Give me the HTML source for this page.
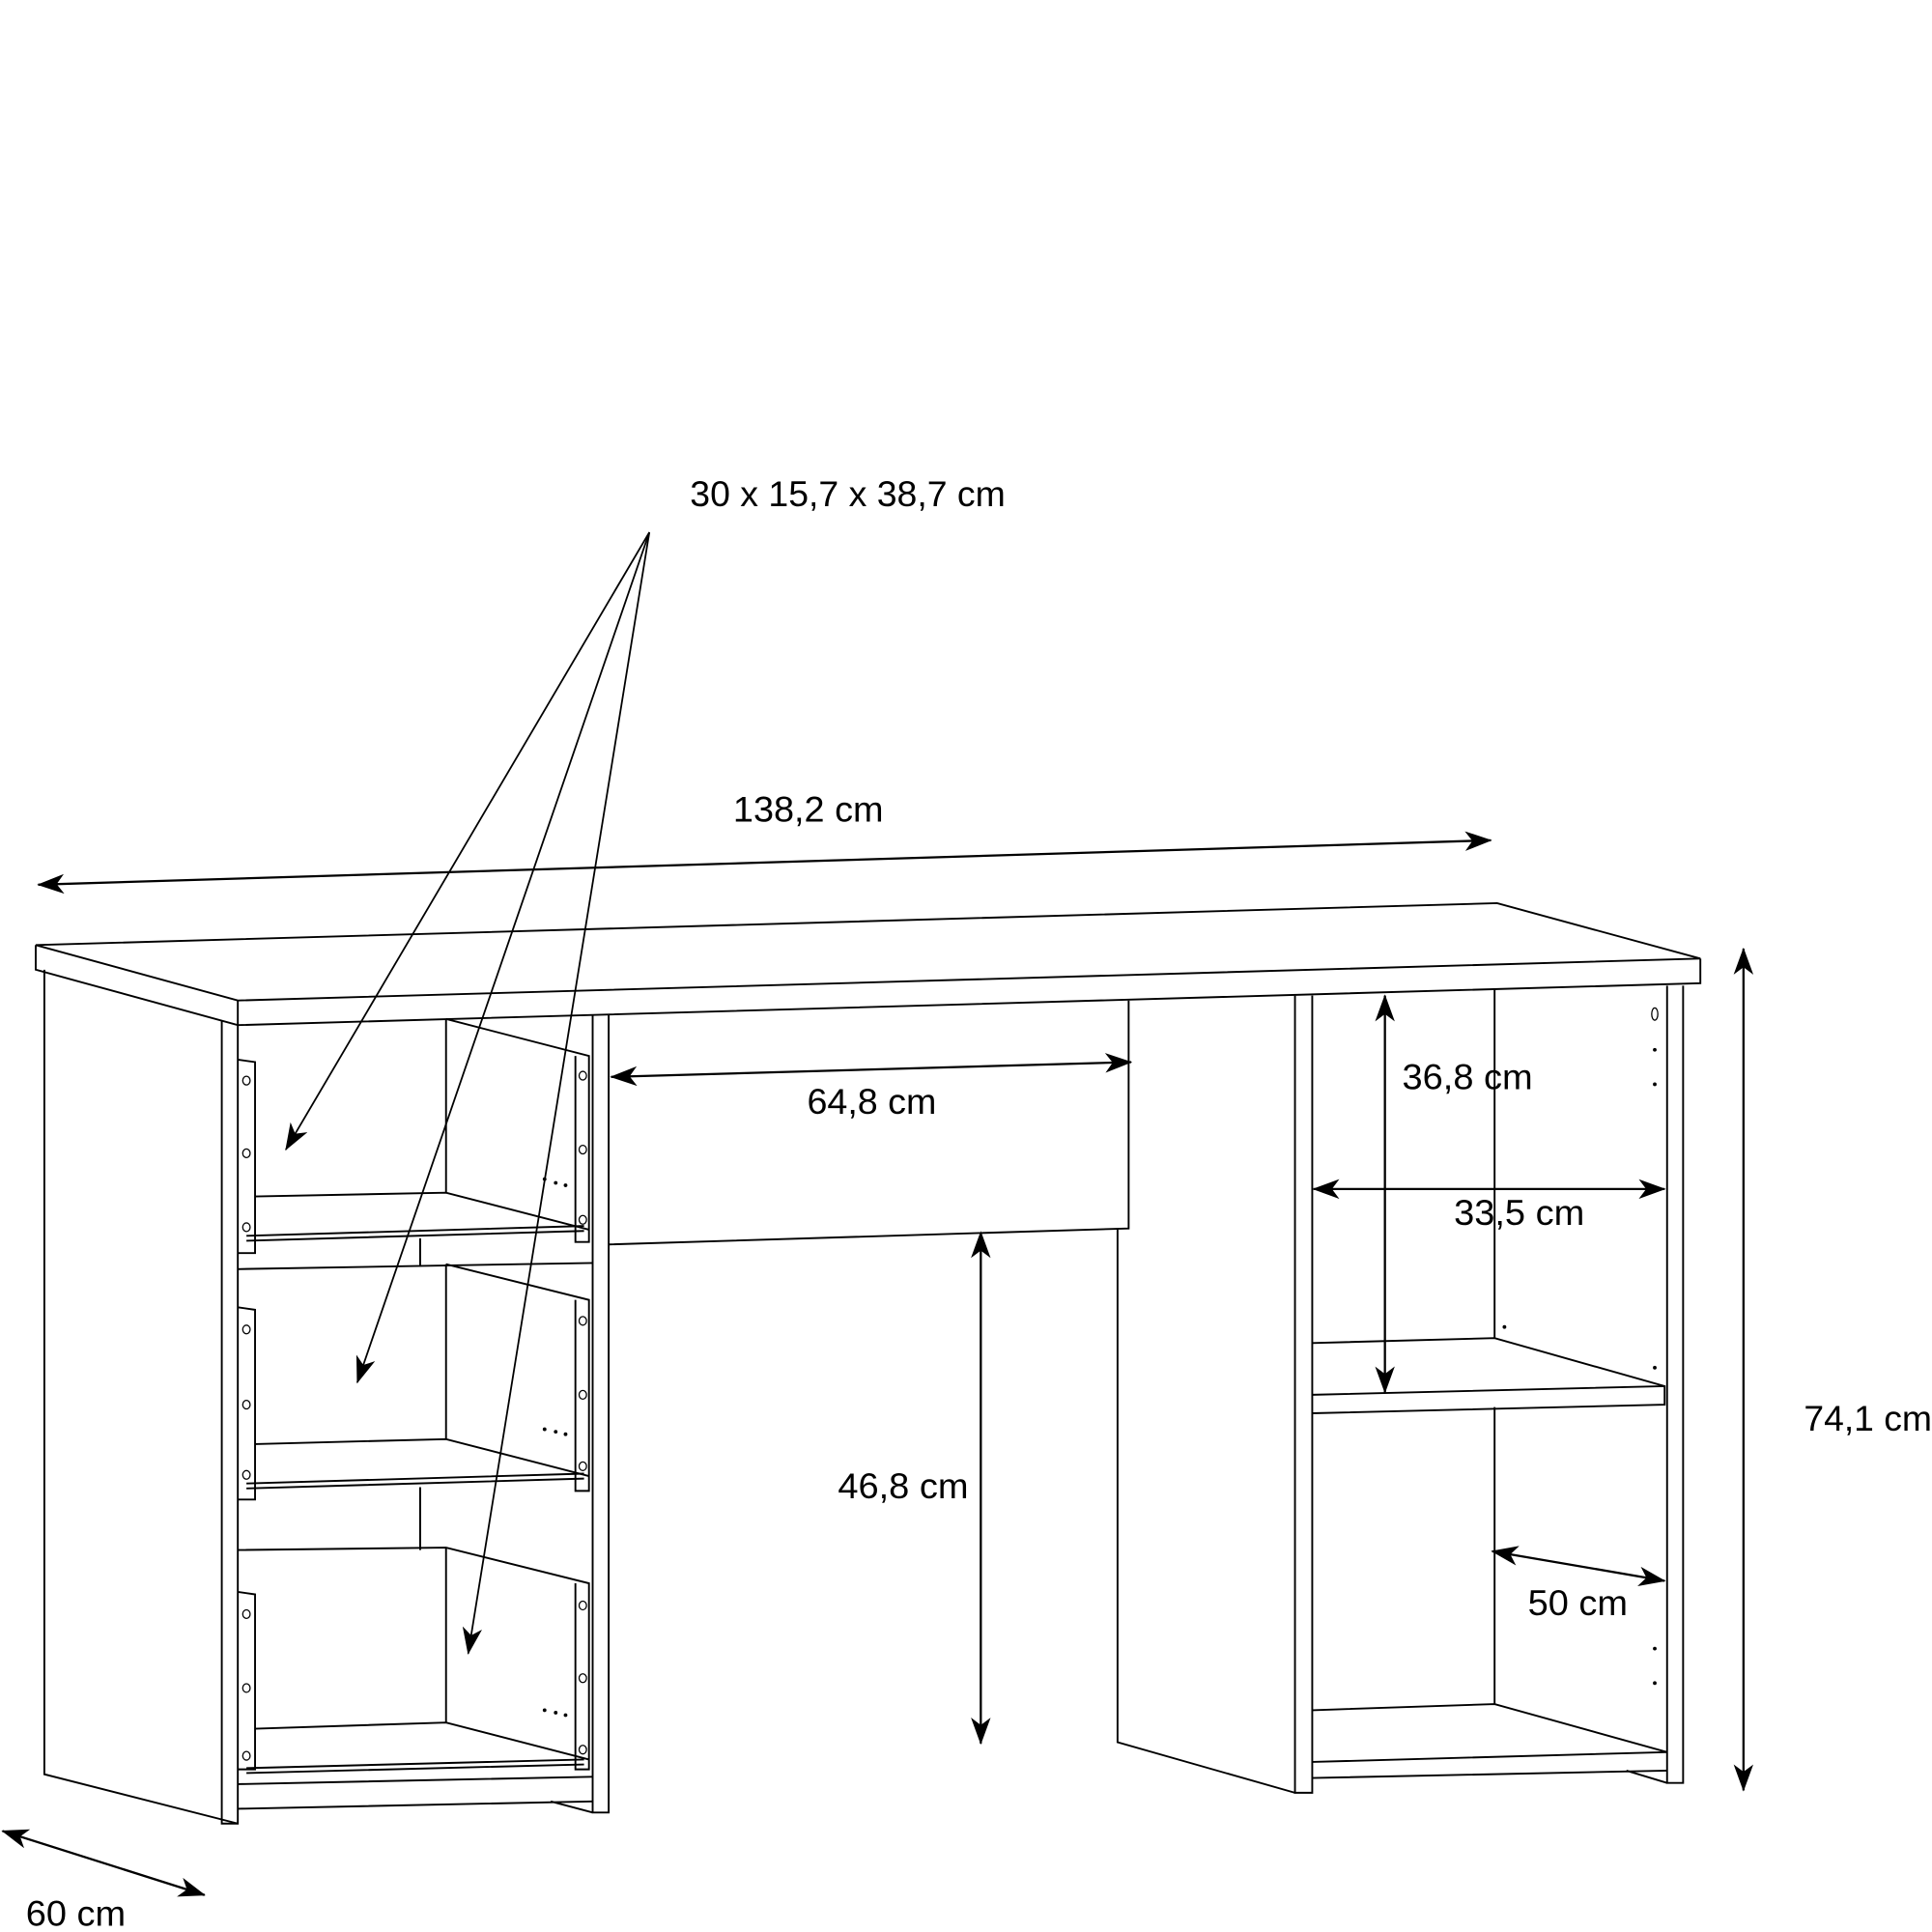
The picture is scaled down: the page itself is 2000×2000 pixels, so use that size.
<!DOCTYPE html>
<html><head><meta charset="utf-8"><style>
html,body{margin:0;padding:0;background:#fff;}
svg{display:block;}
text{font-family:"Liberation Sans","DejaVu Sans",sans-serif;font-size:29px;fill:#000;}
</style></head><body>
<svg width="2000" height="2000" viewBox="0 0 1568 1568" xmlns="http://www.w3.org/2000/svg">
<defs>
<marker id="a" viewBox="0 0 22 16" refX="21" refY="8" markerWidth="22" markerHeight="16" markerUnits="userSpaceOnUse" orient="auto-start-reverse">
<path d="M0,0 L22,8 L0,16 L6,8 Z" fill="#000"/>
</marker>
</defs>
<g fill="none" stroke="#000" stroke-width="1.5">
<path d="M29,767 L1215,733 L1380,778 L193,812 Z"/>
<path d="M29,767 L29,787 L193,832 L1380,798 L1380,778"/>
<line x1="193" y1="812" x2="193" y2="832"/>
<path d="M36,787 L36,1440 L193,1480"/>
<path d="M180,828 L180,1480 L193,1480 L193,832"/>
<path d="M481,824 L481,1471 L494,1471 L494,824"/>
<path d="M193,860 L207,862 L207,1017 L193,1017"/>
<path d="M362,827 L362,968 M362,827 L478,857 L478,1008 L467,1008 L467,857"/>
<path d="M207,971 L362,968 L478,998"/>
<path d="M200,1003 L474,995 M200,1007 L474,999"/>
<path d="M193,1030 L481,1025"/>
<path d="M193,1061 L207,1063 L207,1217 L193,1217"/>
<path d="M362,1026 L362,1168 M362,1026 L478,1055 L478,1210 L467,1210 L467,1055"/>
<path d="M207,1172 L362,1168 L478,1198"/>
<path d="M200,1204 L474,1196 M200,1208 L474,1200"/>
<line x1="341" y1="1005" x2="341" y2="1028"/>
<line x1="341" y1="1207" x2="341" y2="1258"/>
<path d="M193,1258 L362,1256 L478,1285 L478,1436 L467,1436 L467,1285"/>
<path d="M193,1292 L207,1294 L207,1436 L193,1436"/>
<path d="M362,1256 L362,1398"/>
<path d="M207,1403 L362,1398 L478,1428"/>
<path d="M200,1435 L474,1428 M200,1439 L474,1432"/>
<path d="M193,1448 L481,1442 M193,1468 L481,1462 M447,1462 L481,1471"/>
<path d="M494,1010 L916,997 L916,812"/>
<path d="M907,998 L907,1414 L1051,1455"/>
<path d="M1051,808 L1051,1455 L1065,1455 L1065,808"/>
<path d="M1353,800 L1353,1447 L1366,1447 L1366,800"/>
<path d="M1213,803 L1213,1086 M1213,1142 L1213,1383"/>
<path d="M1065,1090 L1213,1086 L1351,1125 L1351,1140 L1065,1147 M1065,1132 L1351,1125"/>
<path d="M1065,1388 L1213,1383 L1353,1422 M1065,1430 L1353,1422 M1065,1443 L1353,1437 M1320,1437 L1353,1447"/>
</g>
<g fill="#000">
<circle cx="1343" cy="852" r="1.5"/><circle cx="1343" cy="880" r="1.5"/>
<circle cx="1221" cy="1077" r="1.5"/><circle cx="1343" cy="1110" r="1.5"/>
<circle cx="1343" cy="1338" r="1.5"/><circle cx="1343" cy="1366" r="1.5"/>
<circle cx="442" cy="957" r="1.5"/><circle cx="451" cy="960" r="1.5"/><circle cx="459" cy="962" r="1.5"/>
<circle cx="442" cy="1160" r="1.5"/><circle cx="451" cy="1162" r="1.5"/><circle cx="459" cy="1164" r="1.5"/>
<circle cx="442" cy="1388" r="1.5"/><circle cx="451" cy="1390" r="1.5"/><circle cx="459" cy="1392" r="1.5"/>
</g>
<g fill="none" stroke="#000" stroke-width="1">
<ellipse cx="200" cy="877" rx="3" ry="3.5"/><ellipse cx="200" cy="936" rx="3" ry="3.5"/><ellipse cx="200" cy="996" rx="3" ry="3.5"/>
<ellipse cx="200" cy="1079" rx="3" ry="3.5"/><ellipse cx="200" cy="1140" rx="3" ry="3.5"/><ellipse cx="200" cy="1197" rx="3" ry="3.5"/>
<ellipse cx="200" cy="1310" rx="3" ry="3.5"/><ellipse cx="200" cy="1370" rx="3" ry="3.5"/><ellipse cx="200" cy="1425" rx="3" ry="3.5"/>
<ellipse cx="473" cy="873" rx="3" ry="3.5"/><ellipse cx="473" cy="933" rx="3" ry="3.5"/><ellipse cx="473" cy="990" rx="3" ry="3.5"/>
<ellipse cx="473" cy="1072" rx="3" ry="3.5"/><ellipse cx="473" cy="1132" rx="3" ry="3.5"/><ellipse cx="473" cy="1190" rx="3" ry="3.5"/>
<ellipse cx="473" cy="1303" rx="3" ry="3.5"/><ellipse cx="473" cy="1362" rx="3" ry="3.5"/><ellipse cx="473" cy="1420" rx="3" ry="3.5"/>
<ellipse cx="1343" cy="823" rx="2.5" ry="5"/>
</g>
<g stroke="#000" stroke-width="1.8" fill="none" marker-start="url(#a)" marker-end="url(#a)">
<line x1="31" y1="718" x2="1210" y2="682"/>
<line x1="496" y1="874" x2="918" y2="862"/>
<line x1="796" y1="1000" x2="796" y2="1415"/>
<line x1="1124" y1="808" x2="1124" y2="1130"/>
<line x1="1066" y1="965" x2="1351" y2="965"/>
<line x1="1211" y1="1259" x2="1351" y2="1283"/>
<line x1="1415" y1="770" x2="1415" y2="1453"/>
<line x1="2" y1="1486" x2="166" y2="1538"/>
</g>
<g stroke="#000" stroke-width="1.4" fill="none" marker-end="url(#a)">
<line x1="527" y1="432" x2="232" y2="933"/>
<line x1="527" y1="432" x2="290" y2="1122"/>
<line x1="527" y1="432" x2="380" y2="1342"/>
</g>
<text x="560" y="411" textLength="256" lengthAdjust="spacingAndGlyphs">30 x 15,7 x 38,7 cm</text>
<text x="595" y="667" textLength="122" lengthAdjust="spacingAndGlyphs">138,2 cm</text>
<text x="655" y="904" textLength="105" lengthAdjust="spacingAndGlyphs">64,8 cm</text>
<text x="680" y="1216" textLength="106" lengthAdjust="spacingAndGlyphs">46,8 cm</text>
<text x="1138" y="884" textLength="106" lengthAdjust="spacingAndGlyphs">36,8 cm</text>
<text x="1180" y="994" textLength="106" lengthAdjust="spacingAndGlyphs">33,5 cm</text>
<text x="1240" y="1311" textLength="81" lengthAdjust="spacingAndGlyphs">50 cm</text>
<text x="1464" y="1161" textLength="104" lengthAdjust="spacingAndGlyphs">74,1 cm</text>
<text x="21" y="1563" textLength="81" lengthAdjust="spacingAndGlyphs">60 cm</text>
</svg>
</body></html>
